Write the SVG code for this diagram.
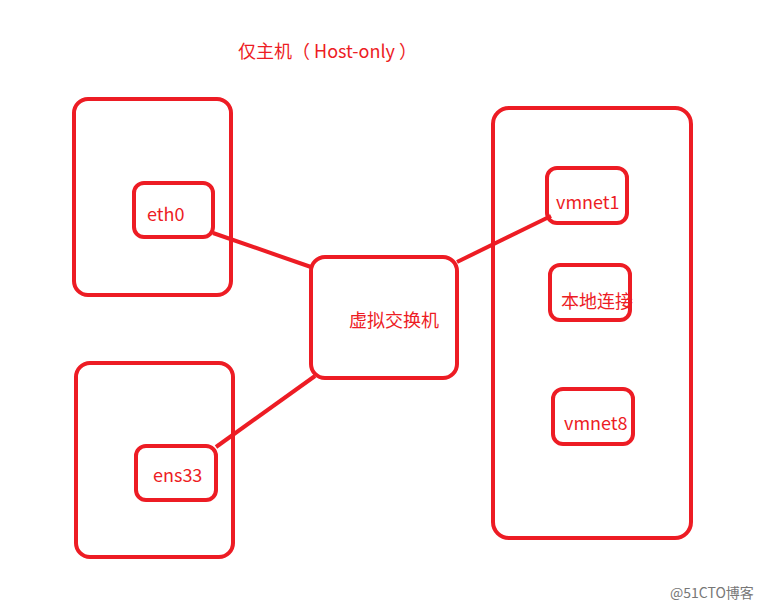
<svg xmlns="http://www.w3.org/2000/svg" width="765" height="609" viewBox="0 0 765 609">
<style>
.b{fill:none;stroke:#ed1c24;stroke-width:4}
.t{fill:#ed1c24;font-family:"Microsoft YaHei","Noto Sans CJK SC",sans-serif;font-size:18px}
.l{stroke:#ed1c24;stroke-width:4}
</style>
<rect width="765" height="609" fill="#fff"/>
<text class="t" x="238" y="58">仅主机（ Host-only ）</text>
<g id="host1"><rect class="b" x="74" y="99" width="157" height="196" rx="14"/></g>
<g id="host2"><rect class="b" x="76" y="363" width="157" height="194" rx="14"/></g>
<g id="host3"><rect class="b" x="493" y="108" width="198" height="430" rx="16"/></g>
<g id="eth0"><rect class="b" x="134" y="183" width="79" height="54" rx="10"/><text class="t" x="147" y="221">eth0</text></g>
<g id="ens33"><rect class="b" x="136" y="446" width="80" height="54" rx="10"/><text class="t" x="153" y="482">ens33</text></g>
<g id="switch"><rect class="b" x="311" y="257" width="146" height="121" rx="14"/><text class="t" x="349" y="327">虚拟交换机</text></g>
<g id="vmnet1"><rect class="b" x="547" y="168" width="80" height="55" rx="10"/><text class="t" x="556" y="209">vmnet1</text></g>
<g id="local"><rect class="b" x="550" y="265" width="80" height="55" rx="10"/><text class="t" x="561" y="308">本地连接</text></g>
<g id="vmnet8"><rect class="b" x="553" y="389" width="80" height="55" rx="10"/><text class="t" x="564" y="430">vmnet8</text></g>
<g id="connectors">
<line class="l" x1="213" y1="233" x2="311" y2="267"/>
<line class="l" x1="216" y1="447" x2="315" y2="376"/>
<line class="l" x1="457" y1="262" x2="551" y2="216"/>
</g>
<text x="670" y="598" font-family="Microsoft YaHei,Noto Sans CJK SC,sans-serif" font-size="14" fill="#777">@51CTO博客</text>
</svg>
